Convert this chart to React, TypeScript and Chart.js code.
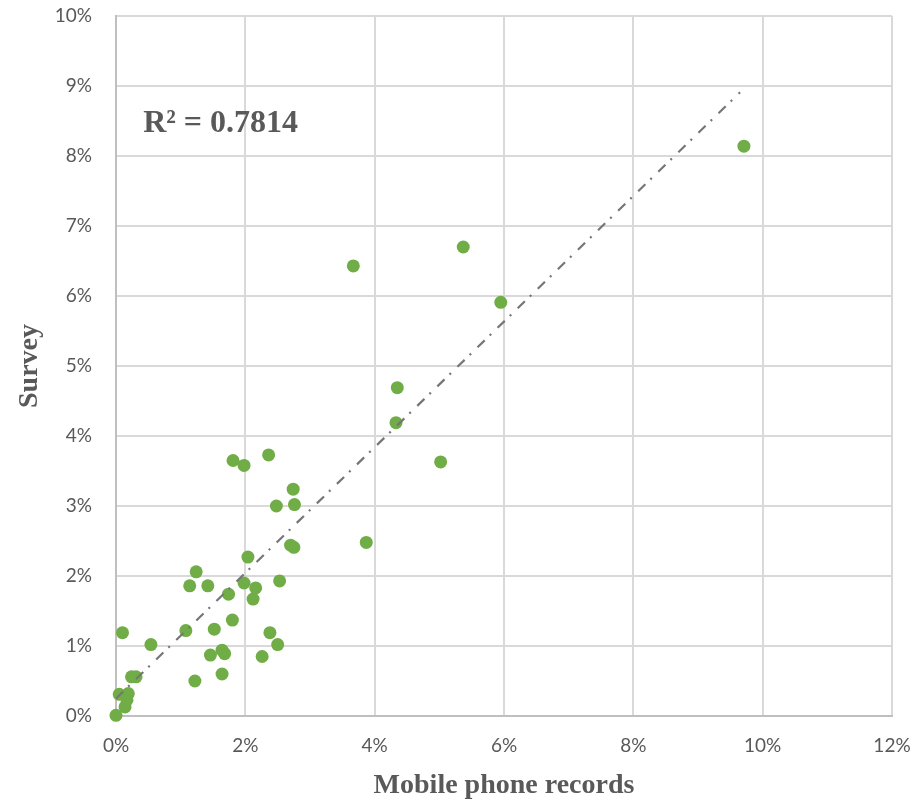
import React, { useEffect, useRef } from "react";
import { Chart, registerables } from "chart.js";

Chart.register(...registerables);

// Mobile phone records share (%) for each zone
const mobileRecords = [
  9.71, 5.37, 5.95, 3.67, 4.35, 4.33, 5.02, 3.87,
  1.81, 1.98, 2.36, 2.74, 2.48, 2.76, 2.70, 2.75,
  2.04, 1.24, 1.14, 1.42, 1.98, 2.16, 2.53, 1.74,
  2.12, 1.80, 1.08, 1.52, 0.10, 0.54, 2.38, 2.50,
  1.46, 1.64, 1.68, 2.26, 1.22, 1.64, 0.24, 0.31,
  0.05, 0.19, 0.17, 0.14, 0.00,
];
// Survey share (%) for the same zones
const survey = [
  8.14, 6.70, 5.91, 6.43, 4.69, 4.19, 3.63, 2.48,
  3.65, 3.58, 3.73, 3.24, 3.00, 3.02, 2.44, 2.41,
  2.27, 2.06, 1.86, 1.86, 1.90, 1.83, 1.93, 1.74,
  1.67, 1.37, 1.22, 1.24, 1.19, 1.02, 1.19, 1.02,
  0.87, 0.94, 0.89, 0.85, 0.50, 0.60, 0.56, 0.56,
  0.31, 0.32, 0.23, 0.13, 0.01,
];
// Linear trend line end points
const trendX = [0, 9.65];
const trendY = [0.25, 8.91];

const xTitle = "Mobile phone records";
const yTitle = "Survey";
const r2Label = "R² = 0.7814";
const r2Anchor = [0.42, 8.34];

const TEXT = "#595959";

export default function App() {
  const ref = useRef<HTMLCanvasElement | null>(null);

  useEffect(() => {
    if (!ref.current) return;
    const points = mobileRecords.map((x, i) => ({ x, y: survey[i] }));
    const trend = trendX.map((x, i) => ({ x, y: trendY[i] }));

    const r2Plugin = {
      id: "r2label",
      afterDatasetsDraw(chart: any) {
        const { ctx, scales } = chart;
        const px = scales.x.getPixelForValue(r2Anchor[0]);
        const py = scales.y.getPixelForValue(r2Anchor[1]);
        ctx.save();
        ctx.font = "bold 32px 'Liberation Serif', serif";
        ctx.fillStyle = TEXT;
        ctx.textAlign = "left";
        ctx.textBaseline = "alphabetic";
        ctx.fillText(r2Label, px, py);
        ctx.restore();
      },
    };

    const chart = new Chart(ref.current, {
      type: "scatter",
      data: {
        datasets: [
          {
            type: "line",
            label: "Trend",
            data: trend,
            borderColor: "#767676",
            borderWidth: 2.2,
            borderDash: [10, 7, 2, 9],
            pointRadius: 0,
            fill: false,
            order: 0,
          } as any,
          {
            label: "Zones",
            data: points,
            backgroundColor: "#70ad47",
            borderWidth: 0,
            pointRadius: 6.5,
            pointHoverRadius: 6.5,
            order: 1,
            clip: false,
          } as any,
        ],
      },
      options: {
        responsive: false,
        animation: false,
        layout: { padding: { left: 0, top: 16, right: 23, bottom: 0 } },
        plugins: {
          legend: { display: false },
          tooltip: { enabled: false },
        },
        scales: {
          x: {
            type: "linear",
            min: 0,
            max: 12,
            afterFit: (s: any) => {
              s.height = 85;
              s.paddingLeft = 0;
              s.paddingRight = 0;
            },
            ticks: {
              stepSize: 2,
              padding: 18,
              color: TEXT,
              font: { family: "Lato", size: 19 },
              callback: (v: any) => v + "%",
            },
            grid: { color: "#d9d9d9", lineWidth: 2, drawTicks: false },
            border: { color: "#bfbfbf", width: 2 },
            title: {
              display: true,
              text: xTitle,
              color: TEXT,
              font: { family: "'Liberation Serif', serif", size: 28, weight: "bold" },
              padding: { top: 0, bottom: -2 },
            },
          },
          y: {
            type: "linear",
            min: 0,
            max: 10,
            afterFit: (s: any) => {
              s.width = 116;
              s.paddingTop = 0;
              s.paddingBottom = 0;
            },
            ticks: {
              stepSize: 1,
              padding: 24,
              color: TEXT,
              font: { family: "Lato", size: 19 },
              callback: (v: any) => v + "%",
            },
            grid: { color: "#d9d9d9", lineWidth: 2, drawTicks: false },
            border: { color: "#bfbfbf", width: 2 },
            title: {
              display: true,
              text: yTitle,
              color: TEXT,
              font: { family: "'Liberation Serif', serif", size: 28, weight: "bold" },
              padding: { top: 13, bottom: 0 },
            },
          },
        },
      },
      plugins: [r2Plugin],
    });
    return () => chart.destroy();
  }, []);

  return (
    <div style={{ position: "absolute", left: 0, top: 0, width: 915, height: 801, background: "#fff" }}>
      <canvas ref={ref} width={915} height={801} style={{ display: "block" }} />
    </div>
  );
}
